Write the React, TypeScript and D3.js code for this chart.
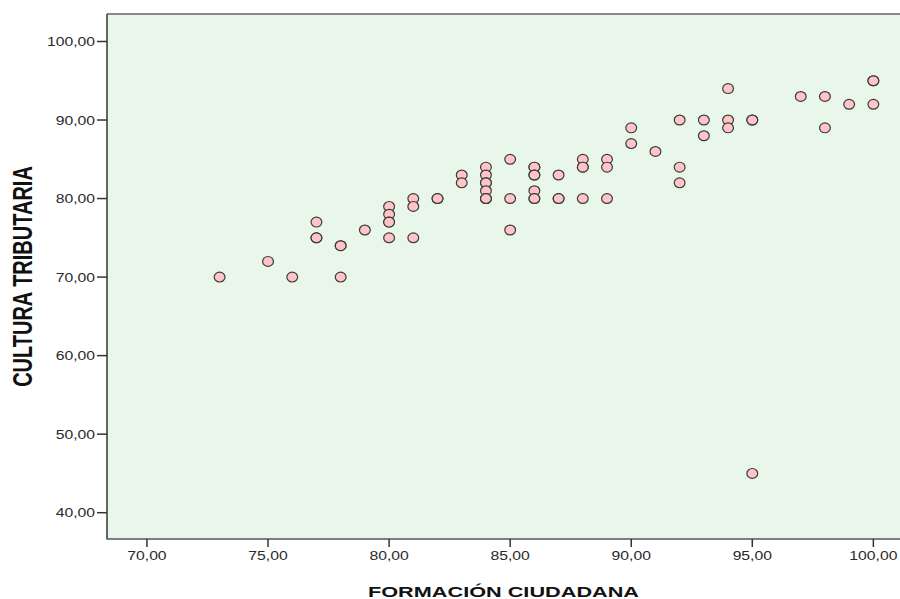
import React from "react";
import * as d3 from "d3";

const formacion: number[] = [
  73, 75, 76, 77, 77, 77, 78, 78, 78, 79,
  80, 80, 80, 80, 80, 81, 81, 81, 82, 82,
  83, 83, 84, 84, 84, 84, 84, 84, 84, 84,
  85, 85, 85, 86, 86, 86, 86, 86, 86, 86,
  87, 87, 87, 88, 88, 88, 88, 89, 89, 89,
  90, 90, 91, 92, 92, 92, 93, 93, 94, 94, 94,
  95, 95, 95, 97, 98, 98, 99, 100, 100, 100,
];
const cultura: number[] = [
  70, 72, 70, 77, 75, 75, 74, 74, 70, 76,
  79, 78, 77, 77, 75, 80, 79, 75, 80, 80,
  83, 82, 84, 83, 82, 82, 81, 80, 80, 80,
  85, 80, 76, 84, 84, 83, 83, 81, 80, 80,
  83, 80, 80, 85, 84, 84, 80, 85, 84, 80,
  89, 87, 86, 90, 84, 82, 90, 88, 94, 90, 89,
  90, 90, 45, 93, 93, 89, 92, 95, 95, 92,
];
const xTicks: number[] = [70, 75, 80, 85, 90, 95, 100];
const yTicks: number[] = [40, 50, 60, 70, 80, 90, 100];
const xTitle = "FORMACIÓN CIUDADANA";
const yTitle = "CULTURA TRIBUTARIA";

const W = 900;
const H = 599;
const left = 107;
const right = 900;
const top = 14;
const bottom = 539;

const fmt = (v: number) => v.toFixed(2).replace(".", ",");

export default function App() {
  const x = d3.scaleLinear().domain([68.35, 101.1]).range([left, right]);
  const y = d3.scaleLinear().domain([36.65, 103.5]).range([bottom, top]);
  const font = "'Liberation Sans', Arial, sans-serif";
  const points = formacion.map((v, i) => ({ fx: v, cy: cultura[i] }));

  return (
    <svg
      width={W}
      height={H}
      style={{ position: "absolute", left: 0, top: 0, background: "#ffffff" }}
    >
      <rect x={left} y={top} width={right - left} height={bottom - top} fill="#E9F7EA" />
      <line x1={left} x2={right} y1={top} y2={top} stroke="#8a8a8a" strokeWidth={2} />
      {points.map((p, i) => (
        <ellipse
          key={i}
          cx={x(p.fx)}
          cy={y(p.cy)}
          rx={5.4}
          ry={4.9}
          fill="#FFC4C6"
          stroke="#3a3a3a"
          strokeWidth={1.2}
        />
      ))}
      <line x1={left} x2={left} y1={top} y2={bottom + 0.5} stroke="#333" strokeWidth={1.5} />
      <line x1={left} x2={right} y1={bottom} y2={bottom} stroke="#555" strokeWidth={1.5} />
      {yTicks.map((t) => (
        <g key={"y" + t}>
          <line x1={left - 10} x2={left} y1={y(t)} y2={y(t)} stroke="#333" strokeWidth={1.5} />
          <text
            transform={`translate(${left - 12},${y(t) + 4.5}) scale(1.31,1)`}
            textAnchor="end"
            fontFamily={font}
            fontSize={12}
            fill="#2a2a2a"
          >
            {fmt(t)}
          </text>
        </g>
      ))}
      {xTicks.map((t) => (
        <g key={"x" + t}>
          <line x1={x(t)} x2={x(t)} y1={bottom} y2={bottom + 8} stroke="#333" strokeWidth={1.5} />
          <text
            transform={`translate(${x(t)},${bottom + 21}) scale(1.31,1)`}
            textAnchor="middle"
            fontFamily={font}
            fontSize={12}
            fill="#2a2a2a"
          >
            {fmt(t)}
          </text>
        </g>
      ))}
      <text
        transform={`translate(${(left + right) / 2},597) scale(1.4,1)`}
        textAnchor="middle"
        fontFamily={font}
        fontSize={15.5}
        fontWeight="bold"
        fill="#111"
      >
        {xTitle}
      </text>
      <text
        transform={`translate(32,${(top + bottom) / 2}) scale(1.4,1) rotate(-90)`}
        textAnchor="middle"
        fontFamily={font}
        fontSize={20}
        fontWeight="bold"
        fill="#111"
      >
        {yTitle}
      </text>
    </svg>
  );
}
